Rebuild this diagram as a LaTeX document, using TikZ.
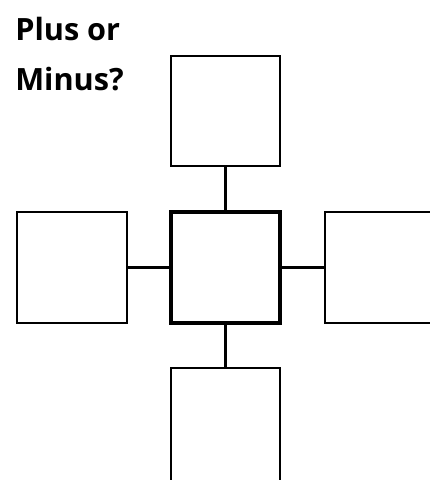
\documentclass[tikz,border=0pt]{standalone}
\usepackage{fontspec}
\setmainfont{Open Sans}
\begin{document}
\begin{tikzpicture}[x=0.75pt,y=-0.75pt,
  box/.style={draw=black,line width=1.7pt,fill=white,minimum width=82pt,minimum height=83pt,inner sep=0pt},
  centerbox/.style={box,line width=3.4pt},
  link/.style={draw=black,line width=1.7pt},
  lbl/.style={anchor=base west,inner sep=0pt,font=\bfseries\fontsize{23}{28}\selectfont}]
\useasboundingbox (0,0) rectangle (430,480);
\clip (0,0) rectangle (430,480);
\node[lbl] (t1) at (15,40) {Plus or};
\node[lbl] (t2) at (15,90) {Minus?};
\node[box] (top) at (225.5,111) {};
\node[centerbox] (mid) at (225.5,267.5) {};
\node[box] (left) at (72,267.5) {};
\node[box] (right) at (380,267.5) {};
\node[box,minimum height=86pt] (bot) at (225.5,425) {};
\draw[link] (top.south) -- (mid.north);
\draw[link] (mid.south) -- (bot.north);
\draw[link] (left.east) -- (mid.west);
\draw[link] (mid.east) -- (right.west);
\end{tikzpicture}
\end{document}
